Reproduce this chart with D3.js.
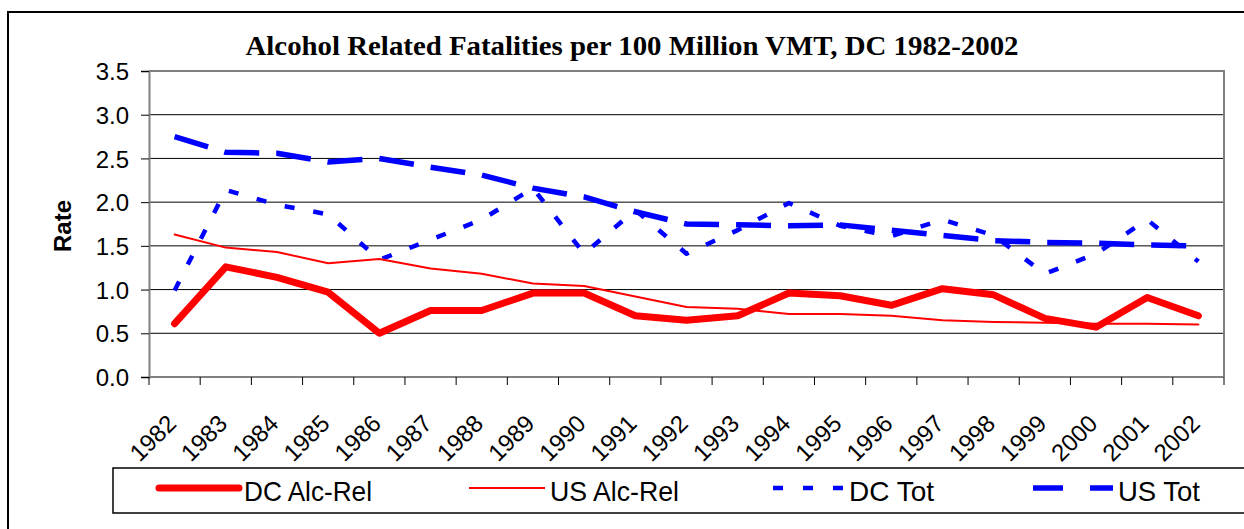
<!DOCTYPE html>
<html>
<head>
<meta charset="utf-8">
<script src="https://cdn.jsdelivr.net/npm/d3@7"></script>
<style>
  body { margin: 0; background: #fff; }
  text { font-family: Arial, "Liberation Sans", sans-serif; fill: #000; }
</style>
</head>
<body>
<script>
var years = ["1982","1983","1984","1985","1986","1987","1988","1989","1990","1991","1992",
  "1993","1994","1995","1996","1997","1998","1999","2000","2001","2002"];
var dcAlcRel = [0.61,1.26,1.14,0.97,0.50,0.76,0.76,0.96,0.96,0.70,0.65,0.70,0.96,0.93,0.82,1.01,0.94,0.67,0.57,0.91,0.70];
var usAlcRel = [1.63,1.48,1.43,1.30,1.35,1.24,1.18,1.07,1.04,0.92,0.80,0.78,0.72,0.72,0.70,0.65,0.63,0.62,0.61,0.61,0.60];
var dcTot = [0.99,2.14,1.97,1.86,1.34,1.57,1.80,2.16,1.41,1.91,1.41,1.68,1.99,1.73,1.61,1.80,1.62,1.18,1.41,1.80,1.32];
var usTot = [2.75,2.57,2.56,2.46,2.50,2.40,2.31,2.16,2.06,1.89,1.75,1.74,1.73,1.74,1.68,1.62,1.56,1.54,1.53,1.51,1.50];
var yTicks = [0, 0.5, 1.0, 1.5, 2.0, 2.5, 3.0, 3.5];
var seriesNames = ["DC Alc-Rel", "US Alc-Rel", "DC Tot", "US Tot"];

var series = [
  {name: seriesNames[0], values: dcAlcRel, width: 7, dash: null, legDash: null, color: "#ff0000"},
  {name: seriesNames[1], values: usAlcRel, width: 2, dash: null, legDash: null, color: "#ff0000"},
  {name: seriesNames[2], values: dcTot, width: 4.5, dash: "10,19", legDash: "10,20", color: "#0000ff"},
  {name: seriesNames[3], values: usTot, width: 5.5, dash: "35,17", legDash: "30,27", color: "#0000ff"}
];

var svg = d3.select("body").append("svg")
  .attr("width", 1244)
  .attr("height", 529);

// outer frame (runs off right and bottom)
svg.append("rect")
  .attr("x", 8).attr("y", 12)
  .attr("width", 1260).attr("height", 540)
  .attr("fill", "none").attr("stroke", "#000").attr("stroke-width", 2);

var pLeft = 149, pRight = 1224, pTop = 71, pBottom = 377;

var x = d3.scaleBand().domain(years).range([pLeft, pRight]).padding(0);
var y = d3.scaleLinear().domain([0, 3.5]).range([pBottom, pTop]);

// gridlines
svg.append("g").selectAll("line")
  .data(yTicks.filter(function(d) { return d > 0 && d < 3.5; }))
  .enter().append("line")
  .attr("x1", pLeft).attr("x2", pRight)
  .attr("y1", function(d) { return y(d); })
  .attr("y2", function(d) { return y(d); })
  .attr("stroke", "#000").attr("stroke-width", 1);

// plot border top & right
svg.append("path")
  .attr("d", "M" + pLeft + "," + pTop + "H" + pRight + "V" + pBottom)
  .attr("fill", "none").attr("stroke", "#808080").attr("stroke-width", 2);

// y axis
var yAxis = d3.axisLeft(y).tickValues(yTicks).tickSize(8).tickPadding(12)
  .tickFormat(d3.format(".1f"));
var gy = svg.append("g").attr("transform", "translate(" + pLeft + ",0)").call(yAxis);
gy.select(".domain").attr("stroke", "#808080").attr("stroke-width", 2);
gy.selectAll(".tick line").attr("stroke", "#000");
gy.selectAll("text").style("font-size", "24px").attr("dy", "0.36em");

// x axis: ticks at category boundaries
var gx = svg.append("g");
gx.append("line")
  .attr("x1", pLeft).attr("x2", pRight).attr("y1", pBottom).attr("y2", pBottom)
  .attr("stroke", "#808080").attr("stroke-width", 2);
gx.selectAll(".xt").data(years.concat(["end"]))
  .enter().append("line")
  .attr("x1", function(d, i) { return i < years.length ? x(d) : pRight; })
  .attr("x2", function(d, i) { return i < years.length ? x(d) : pRight; })
  .attr("y1", pBottom).attr("y2", pBottom + 8)
  .attr("stroke", "#000").attr("stroke-width", 1);
gx.selectAll(".xl").data(years)
  .enter().append("text")
  .attr("text-anchor", "end")
  .style("font-size", "24px")
  .attr("transform", function(d) {
    return "translate(" + (x(d) + x.bandwidth() / 2 + 3) + "," + 425 + ") rotate(-45)";
  })
  .text(function(d) { return d; });

// y label
svg.append("text")
  .attr("transform", "translate(71,226) rotate(-90)")
  .attr("text-anchor", "middle")
  .style("font-size", "24px").style("font-weight", "bold")
  .text("Rate");

// title
svg.append("text")
  .attr("x", 632).attr("y", 55)
  .attr("text-anchor", "middle")
  .attr("textLength", 773).attr("lengthAdjust", "spacingAndGlyphs")
  .style("font-family", "'Times New Roman', 'Liberation Serif', serif")
  .style("font-size", "27px").style("font-weight", "bold")
  .text("Alcohol Related Fatalities per 100 Million VMT, DC 1982-2002");

// lines
var line = d3.line()
  .x(function(d, i) { return x(years[i]) + x.bandwidth() / 2; })
  .y(function(d) { return y(d); });

svg.append("g").selectAll("path")
  .data(series.slice().reverse())
  .enter().append("path")
  .attr("d", function(s) { return line(s.values); })
  .attr("fill", "none")
  .attr("stroke", function(s) { return s.color; })
  .attr("stroke-width", function(s) { return s.width; })
  .attr("stroke-dasharray", function(s) { return s.dash; })
  .attr("stroke-linejoin", "round")
  .attr("stroke-linecap", function(s) { return s.dash ? "butt" : "round"; });

// legend
svg.append("rect")
  .attr("x", 113).attr("y", 468)
  .attr("width", 1200).attr("height", 45)
  .attr("fill", "#fff").attr("stroke", "#000").attr("stroke-width", 1.5);

var legX = [159, 469, 773, 1033];
var legLen = [80, 76, 71, 80];
var legText = [128, 129, 85, 82];
var leg = svg.append("g").selectAll("g").data(series).enter().append("g");
leg.append("line")
  .attr("x1", function(s, i) { return legX[i]; })
  .attr("x2", function(s, i) { return legX[i] + legLen[i]; })
  .attr("y1", 488).attr("y2", 488)
  .attr("stroke", function(s) { return s.color; })
  .attr("stroke-width", function(s) { return s.width; })
  .attr("stroke-dasharray", function(s) { return s.legDash; })
  .attr("stroke-linecap", function(s, i) { return i === 0 ? "round" : "butt"; });
leg.append("text")
  .attr("x", function(s, i) { return legX[i] + legLen[i] + 5; })
  .attr("y", 501)
  .attr("textLength", function(s, i) { return legText[i]; })
  .attr("lengthAdjust", "spacingAndGlyphs")
  .style("font-size", "28px")
  .text(function(s) { return s.name; });
</script>
</body>
</html>
